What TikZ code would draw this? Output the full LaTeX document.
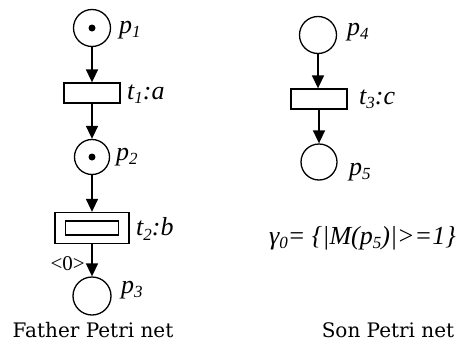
\documentclass[tikz,border=0pt]{standalone}
\usepackage{fontspec}
\setmainfont{Liberation Serif}
\newfontfamily\capfont{DejaVu Serif}
\usetikzlibrary{arrows.meta}
% italic subscript used in the place and transition names
\newcommand{\lowidx}[1]{\raisebox{-0.35ex}{\fontsize{17}{17}\selectfont #1}}
\begin{document}
\begin{tikzpicture}[x=1pt,y=-1pt,
  place/.style={circle,draw,line width=1.3pt,minimum size=37pt,inner sep=0pt},
  trans/.style={rectangle,draw,line width=1.3pt,minimum width=56pt,minimum height=20pt,inner sep=0pt},
  arc/.style={-{Triangle[length=13pt,width=12pt]},line width=1.6pt},
  lbl/.style={font=\fontsize{26}{26}\selectfont\itshape,anchor=west,inner sep=0pt},
  token/.style={circle,fill,minimum size=7pt,inner sep=0pt},
  caption/.style={font=\capfont\fontsize{20}{20}\selectfont,inner sep=0pt}]
\useasboundingbox (0,0) rectangle (463,359);

% father net
\node[place] (p1) at (92,28) {};
\node[token] (k1) at (p1) {};
\node[trans] (t1) at (92,93) {};
\node[place,minimum size=35pt] (p2) at (92,157) {};
\node[token] (k2) at (p2) {};
\node[trans,minimum width=74pt,minimum height=31pt] (t2) at (92,228) {};
\node[trans,minimum width=53pt,minimum height=14pt] (t2in) at (92,228) {};
\node[place,minimum size=38pt] (p3) at (92,296) {};

\draw[arc] (p1) -- (t1);
\draw[arc] (t1) -- (p2);
\draw[arc] (p2) -- (t2);
\draw[arc] (t2) -- (p3);

\node[lbl] (lp1) at (119,30) {p\lowidx{1}};
\node[lbl] (lt1) at (127,94) {t\lowidx{1}:a};
\node[lbl] (lp2) at (116,157) {p\lowidx{2}};
\node[lbl] (lt2) at (136,229) {t\lowidx{2}:b};
\node[lbl] (lp3) at (121,290) {p\lowidx{3}};
\node[font=\fontsize{21}{21}\selectfont,anchor=east,inner sep=0pt] (w0) at (85,264) {<0>};

% son net
\node[place] (p4) at (318,35) {};
\node[trans] (t3) at (319,99) {};
\node[place,minimum size=36pt] (p5) at (319,162) {};
\draw[arc] (p4.south) -- (t3.north -| p4.south);
\draw[arc] (t3) -- (p5);

\node[lbl] (lp4) at (347,32) {p\lowidx{4}};
\node[lbl] (lt3) at (359,99) {t\lowidx{3}:c};
\node[lbl] (lp5) at (349,172) {p\lowidx{5}};

\node[lbl] (gamma) at (269,238) {γ\lowidx{0}= \{|M(p\lowidx{5})|>=1\}};

% captions
\node[caption] (cf) at (93,330) {Father Petri net};
\node[caption] (cs) at (388,330) {Son Petri net};
\end{tikzpicture}
\end{document}
